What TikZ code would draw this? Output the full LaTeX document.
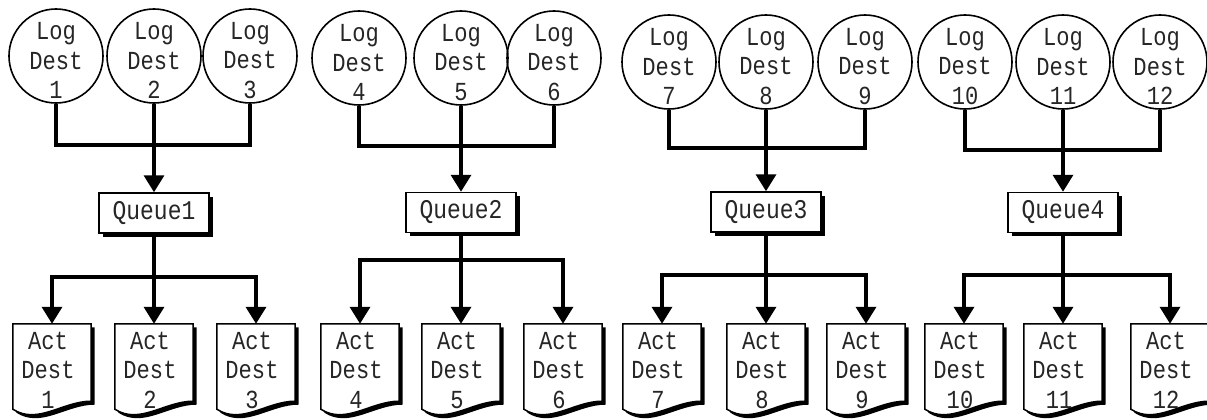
\documentclass[tikz,border=0pt]{standalone}
\usepackage{fontspec}
\newfontfamily\lmono[FakeStretch=0.85]{Liberation Mono}
\usetikzlibrary{arrows.meta,calc,shadows}
\tikzset{
  txt/.style={font=\lmono\fontsize{26}{29.5}\selectfont, text=black!85, align=center, inner sep=0pt},
  logc/.style={circle, draw, line width=1.6pt, minimum size=94pt, inner sep=0pt},
  shad/.style={drop shadow={shadow xshift=3.5pt, shadow yshift=-3.5pt, fill=black, opacity=1}},
  qbox/.style={draw, fill=white, line width=1.5pt, minimum width=110pt, minimum height=40pt,
               inner sep=0pt, font=\lmono\fontsize{27}{29.5}\selectfont, text=black!85, shad},
  actn/.style={minimum width=78pt, minimum height=85pt, inner sep=0pt},
  docline/.style={fill=white, draw=black, line width=1.5pt, line join=miter, shad},
  conn/.style={line width=3.5pt},
  arr/.style={conn, -{Triangle[width=20pt,length=17pt]}},
}
\newcommand{\docshape}[1]{%
  \path[docline] (#1.north west) -- (#1.north east) -- ([shift={(0,-8)}]#1.south east)
    .. controls ([shift={(50,-8)}]#1.south west) and ([shift={(25,16)}]#1.south west) ..
    (#1.south west) -- cycle;}
\begin{document}
\begin{tikzpicture}[x=1pt,y=-1pt]
\fill[white] (0,0) rectangle (1207,420);
\useasboundingbox (0,0) rectangle (1207,420);
\foreach \g/\na/\nb/\nc/\xa/\xb/\xc/\cy/\qy/\hu/\hl/\aa/\ab/\ac in {
  1/1/2/3/56/154/250/56/213/145/277/52/154/256,
  2/4/5/6/359/461/554/58/212.5/146/260/360/461/563,
  3/7/8/9/669/766/865/62/212/148/275/662/766/866,
  4/10/11/12/965/1063/1160/62/212.5/150/275/964/1063/1170}
{
  % log destinations
  \node[logc] (c\na) at (\xa,\cy) {};
  \node[logc] (c\nb) at (\xb,\cy) {};
  \node[logc] (c\nc) at (\xc,\cy) {};
  \node[txt] (lt\na) at ($(c\na.center)+(0,4.5)$) {Log\\Dest\\\na};
  \node[txt] (lt\nb) at ($(c\nb.center)+(0,4.5)$) {Log\\Dest\\\nb};
  \node[txt] (lt\nc) at ($(c\nc.center)+(0,4.5)$) {Log\\Dest\\\nc};
  % queue
  \node[qbox] (q\g) at (\xb,\qy) {Queue\g};
  \coordinate (hu\g) at (\xb,\hu);
  \coordinate (hl\g) at (\xb,\hl);
  \draw[conn] (c\na.south) |- (hu\g) -| (c\nc.south);
  \draw[arr] (c\nb.south) -- (q\g.north);
  % act destinations
  \node[actn] (a\na) at (\aa,366.5) {};
  \node[actn] (a\nb) at (\ab,366.5) {};
  \node[actn] (a\nc) at (\ac,366.5) {};
  \docshape{a\na}
  \docshape{a\nb}
  \docshape{a\nc}
  \node[txt] (at\na) at ($(a\na.center)+(-4,3.5)$) {Act\\Dest\\\na};
  \node[txt] (at\nb) at ($(a\nb.center)+(-4,3.5)$) {Act\\Dest\\\nb};
  \node[txt] (at\nc) at ($(a\nc.center)+(-4,3.5)$) {Act\\Dest\\\nc};
  \draw[arr] (q\g.south) -- (a\nb.north);
  \draw[arr] (hl\g) -| (a\na.north);
  \draw[arr] (hl\g) -| (a\nc.north);
}
\end{tikzpicture}
\end{document}
